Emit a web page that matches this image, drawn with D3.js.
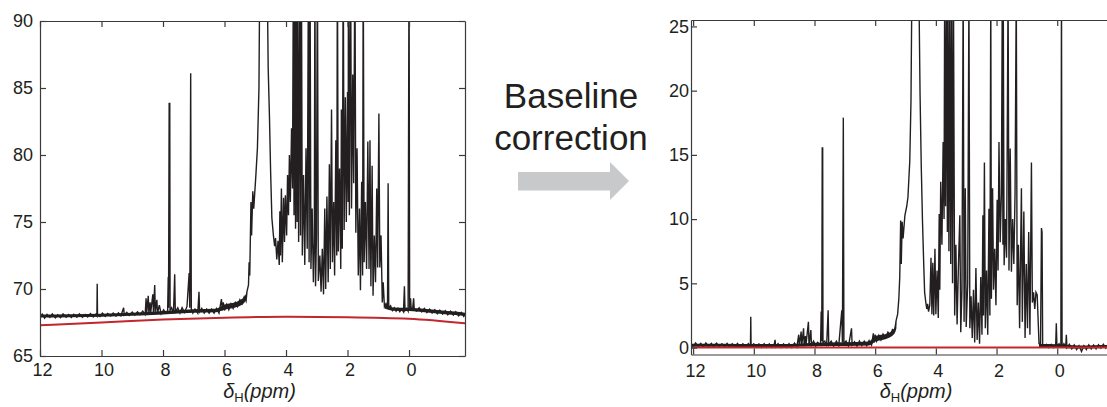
<!DOCTYPE html>
<html>
<head>
<meta charset="utf-8">
<script src="https://cdn.jsdelivr.net/npm/d3@7"></script>
<style>
  body { margin: 0; background: #fff; }
  svg { display: block; font-family: "Liberation Sans", Arial, sans-serif; }
  .axis path, .axis line { stroke: #3b3b3b; stroke-width: 1.2; }
  .axis text { fill: #231f20; font-size: 18px; }
  .spectrum { fill: none; stroke: #231f20; stroke-width: 1.4; stroke-linejoin: miter; }
  .noise { fill: #231f20; stroke: none; }
  .baseline { fill: none; stroke: #c1272d; stroke-width: 2; }
</style>
</head>
<body>
<svg id="chart" width="1107" height="407"></svg>
<script>
// tick values
const ppmTicks = [12, 10, 8, 6, 4, 2, 0];
const rawTicks = [65, 70, 75, 80, 85, 90];
const correctedTicks = [0, 5, 10, 15, 20, 25];

// raw spectrum [ppm, intensity] (values above 90 run off the top)
const rawSpectrum = [
  [12.00,67.85],[11.93,68.12],[11.85,67.82],[11.77,68.10],[11.68,67.88],[11.60,68.14],[11.50,67.84],[11.42,68.08],
  [11.33,67.86],[11.25,68.15],[11.15,67.90],[11.07,68.10],[10.98,67.88],[10.90,68.12],[10.80,67.90],[10.72,68.14],
  [10.62,67.90],[10.53,68.10],[10.45,67.92],[10.36,68.16],[10.27,67.92],[10.18,68.12],[10.15,68.00],[10.14,70.40],
  [10.13,68.05],[10.05,67.95],[9.97,68.20],[9.88,67.95],[9.80,68.18],[9.70,67.98],[9.62,68.20],[9.53,67.98],
  [9.45,68.22],[9.37,68.00],[9.28,68.60],[9.26,68.05],[9.18,68.25],[9.10,68.02],[9.00,68.28],[8.92,68.05],
  [8.83,68.30],[8.75,68.08],[8.66,68.35],[8.58,68.10],[8.55,69.30],[8.53,68.20],[8.48,69.50],[8.46,68.20],
  [8.42,69.00],[8.40,68.25],[8.33,69.60],[8.31,68.20],[8.27,70.30],[8.25,68.30],[8.20,69.20],[8.18,68.20],
  [8.12,68.80],[8.06,68.15],[7.98,68.45],[7.92,68.20],[7.85,68.30],[7.83,70.90],[7.82,68.60],[7.80,83.90],
  [7.79,70.00],[7.78,83.90],[7.77,68.40],[7.72,68.60],[7.66,68.20],[7.62,71.10],[7.60,68.30],[7.52,68.60],
  [7.45,68.20],[7.38,68.60],[7.30,68.25],[7.22,68.70],[7.15,71.20],[7.13,68.60],[7.10,86.10],[7.08,68.50],
  [7.03,68.20],[6.96,68.50],[6.87,68.20],[6.83,69.80],[6.81,68.30],[6.74,68.55],[6.66,68.20],[6.58,68.50],
  [6.50,68.20],[6.42,68.50],[6.34,68.20],[6.26,68.55],[6.18,68.20],[6.10,69.25],[6.07,68.40],[6.04,69.00],
  [6.00,68.40],[5.93,68.85],[5.86,68.45],[5.79,68.90],[5.72,68.55],[5.65,69.00],[5.58,68.70],[5.50,69.20],
  [5.43,68.90],[5.36,69.40],[5.30,69.10],[5.27,69.80],[5.22,70.30],[5.20,72.00],[5.18,71.00],[5.14,76.50],
  [5.12,74.00],[5.08,77.30],[5.05,76.00],[4.98,78.50],[4.93,80.50],[4.88,85.00],[4.85,95.00],[4.62,95.00],
  [4.58,86.50],[4.54,83.00],[4.50,78.70],[4.46,75.30],[4.41,74.00],[4.37,73.20],[4.34,73.80],[4.30,72.20],
  [4.26,73.60],[4.22,71.80],[4.20,75.80],[4.18,72.50],[4.15,77.50],[4.12,72.00],[4.08,76.80],[4.05,73.50],
  [4.02,77.00],[3.98,74.00],[3.95,78.50],[3.92,75.50],[3.89,80.00],[3.86,76.50],[3.82,82.00],[3.79,77.50],
  [3.76,95.00],[3.74,75.50],[3.72,95.00],[3.69,74.50],[3.67,95.00],[3.64,75.00],[3.62,95.00],[3.59,73.50],
  [3.55,95.00],[3.53,74.00],[3.50,95.00],[3.47,72.50],[3.43,78.50],[3.39,71.80],[3.35,80.50],[3.31,73.00],
  [3.27,95.00],[3.25,72.00],[3.22,95.00],[3.19,71.50],[3.15,76.00],[3.11,70.50],[3.08,73.50],[3.06,95.00],
  [3.04,70.20],[3.01,74.00],[2.98,95.00],[2.95,70.60],[2.90,72.50],[2.86,69.80],[2.82,73.00],[2.78,69.60],
  [2.74,76.00],[2.71,70.00],[2.67,76.90],[2.63,70.50],[2.59,79.30],[2.56,71.50],[2.52,83.40],[2.49,72.00],
  [2.45,76.50],[2.42,71.00],[2.38,81.10],[2.35,72.50],[2.33,95.00],[2.30,72.80],[2.26,79.00],[2.22,71.50],
  [2.20,83.40],[2.17,73.00],[2.14,95.00],[2.11,74.40],[2.07,84.30],[2.04,75.00],[2.00,84.70],[1.98,76.50],
  [1.97,95.00],[1.94,75.50],[1.90,95.00],[1.87,76.00],[1.83,86.00],[1.80,77.90],[1.76,95.00],[1.73,74.20],
  [1.69,80.50],[1.65,71.00],[1.61,76.00],[1.58,69.90],[1.54,78.00],[1.51,71.00],[1.49,95.00],[1.46,72.00],
  [1.42,76.50],[1.38,71.50],[1.34,81.00],[1.30,71.50],[1.27,81.10],[1.24,70.20],[1.20,79.20],[1.17,69.50],
  [1.13,74.00],[1.09,70.50],[1.05,77.50],[1.02,71.60],[0.98,83.10],[0.95,71.60],[0.91,74.00],[0.87,69.00],
  [0.84,70.50],[0.80,68.70],[0.75,68.90],[0.70,68.60],[0.68,77.90],[0.66,68.60],[0.60,68.75],[0.54,68.40],
  [0.48,68.60],[0.42,68.35],[0.36,68.55],[0.30,68.30],[0.24,68.50],[0.18,68.30],[0.15,70.20],[0.13,68.40],
  [0.08,68.55],[0.03,68.35],[0.00,95.00],[-0.02,68.50],[-0.05,69.30],[-0.07,68.50],[-0.12,68.60],[-0.15,69.30],
  [-0.17,68.45],[-0.25,68.35],[-0.33,68.60],[-0.41,68.30],[-0.50,68.55],[-0.58,68.25],[-0.67,68.50],[-0.75,68.20],
  [-0.84,68.45],[-0.92,68.15],[-1.00,68.42],[-1.09,68.12],[-1.18,68.38],[-1.26,68.08],[-1.35,68.35],[-1.44,68.05],
  [-1.52,68.30],[-1.61,68.00],[-1.70,68.25],[-1.78,67.95],[-1.85,68.20]
];

// thickness of the noise floor on the left panel [ppm, low, high], one list per stretch of flat baseline
const rawNoiseBands = [
  [[12.0,67.88,68.10],[11.0,67.90,68.12],[10.0,67.93,68.16],[9.0,68.00,68.22],[8.0,68.10,68.36],[7.0,68.22,68.48],
   [6.3,68.26,68.52],[6.0,68.45,68.85],[5.6,68.65,69.05],[5.35,69.00,69.45],[5.27,69.40,69.80]],
  [[0.80,68.55,68.80],[0.5,68.38,68.62],[0.0,68.36,68.60],[-0.5,68.26,68.52],[-1.0,68.16,68.42],
   [-1.5,68.06,68.32],[-1.85,67.98,68.22]]
];

// fitted baseline drawn in red on the left panel [ppm, intensity]
const rawBaseline = [
  [12.0,67.30],[10.0,67.50],[8.0,67.72],[6.0,67.86],[4.0,67.93],[2.0,67.90],[0.0,67.78],[-1.85,67.44]
];

// baseline-corrected spectrum [ppm, intensity]
const correctedSpectrum = [
  [12.07,0.30],[12.00,0.05],[11.92,0.35],[11.83,0.08],[11.75,0.33],[11.66,0.06],[11.58,0.36],[11.49,0.08],
  [11.40,0.32],[11.32,0.05],[11.23,0.34],[11.14,0.08],[11.05,0.30],[10.97,0.05],[10.88,0.33],[10.80,0.06],
  [10.71,0.30],[10.62,0.04],[10.54,0.32],[10.45,0.06],[10.36,0.30],[10.27,0.05],[10.18,0.30],[10.11,0.10],
  [10.10,2.40],[10.09,0.10],[10.00,0.30],[9.92,0.02],[9.83,0.28],[9.75,0.00],[9.66,0.30],[9.58,0.02],
  [9.49,0.28],[9.40,0.00],[9.32,0.30],[9.30,0.60],[9.28,0.05],[9.20,0.30],[9.10,0.00],[9.02,0.28],
  [8.93,0.02],[8.84,0.30],[8.75,0.00],[8.66,0.35],[8.58,0.05],[8.52,1.00],[8.50,0.10],[8.44,1.25],
  [8.42,0.15],[8.36,1.50],[8.34,0.10],[8.30,0.90],[8.28,0.20],[8.20,2.00],[8.18,0.15],[8.12,1.37],
  [8.10,0.20],[8.03,0.50],[7.96,0.10],[7.90,0.40],[7.80,0.20],[7.78,2.80],[7.76,0.50],[7.745,15.60],
  [7.737,3.00],[7.73,15.60],[7.72,0.40],[7.66,0.50],[7.60,0.10],[7.55,2.90],[7.53,0.20],[7.45,0.50],
  [7.37,0.10],[7.28,0.50],[7.20,0.15],[7.10,2.90],[7.08,0.40],[7.05,17.90],[7.03,0.30],[6.96,0.50],
  [6.88,0.10],[6.78,1.50],[6.76,0.20],[6.68,0.45],[6.60,0.10],[6.52,0.50],[6.44,0.15],[6.36,0.50],
  [6.28,0.15],[6.20,0.55],[6.12,0.20],[6.06,1.10],[6.03,0.40],[6.00,1.00],[5.95,0.50],[5.88,0.95],
  [5.81,0.60],[5.74,1.05],[5.66,0.75],[5.58,1.20],[5.50,0.95],[5.43,1.40],[5.36,1.30],[5.31,2.10],
  [5.26,2.60],[5.22,3.80],[5.19,5.50],[5.16,9.90],[5.14,6.50],[5.11,9.80],[5.08,8.50],[5.02,10.30],
  [4.96,11.00],[4.92,11.70],[4.86,14.50],[4.82,19.20],[4.79,28.00],[4.56,28.00],[4.52,19.60],[4.48,14.00],
  [4.44,9.80],[4.40,6.50],[4.37,4.30],[4.33,3.50],[4.30,3.00],[4.27,3.40],[4.24,2.80],[4.20,3.30],
  [4.16,7.00],[4.13,2.60],[4.10,6.60],[4.07,2.50],[4.03,7.70],[4.00,2.60],[3.96,6.00],[3.92,2.30],
  [3.89,10.40],[3.87,4.50],[3.84,12.90],[3.80,8.00],[3.76,16.00],[3.73,10.00],[3.71,28.00],[3.68,11.00],
  [3.65,28.00],[3.62,9.00],[3.60,28.00],[3.57,7.50],[3.54,28.00],[3.51,6.50],[3.48,28.00],[3.45,5.00],
  [3.42,28.00],[3.38,2.50],[3.34,8.00],[3.30,1.80],[3.26,6.00],[3.21,10.30],[3.18,1.20],[3.14,4.50],
  [3.10,28.00],[3.07,2.00],[3.03,12.40],[3.00,1.60],[2.95,5.00],[2.91,28.00],[2.88,1.50],[2.84,4.00],
  [2.80,0.75],[2.76,4.50],[2.72,0.40],[2.68,6.20],[2.64,0.60],[2.60,3.50],[2.56,0.30],[2.52,5.50],
  [2.48,1.00],[2.45,10.30],[2.43,2.50],[2.40,14.40],[2.37,1.50],[2.33,6.00],[2.29,1.00],[2.25,10.80],
  [2.22,2.50],[2.19,28.00],[2.17,3.80],[2.13,12.40],[2.10,4.50],[2.06,7.70],[2.02,3.30],[1.98,11.50],
  [1.95,6.00],[1.92,16.00],[1.88,8.20],[1.84,12.00],[1.81,28.00],[1.79,8.00],[1.78,28.00],[1.75,6.40],
  [1.71,10.00],[1.67,7.00],[1.62,28.00],[1.59,6.00],[1.55,15.50],[1.51,5.90],[1.47,10.00],[1.43,6.50],
  [1.39,12.00],[1.35,28.00],[1.32,3.30],[1.28,8.00],[1.24,1.50],[1.18,12.40],[1.15,2.00],[1.10,10.60],
  [1.06,0.75],[1.02,6.50],[0.98,1.50],[0.94,9.00],[0.90,1.00],[0.85,14.40],[0.82,3.50],[0.78,4.30],
  [0.74,3.00],[0.70,4.30],[0.66,4.10],[0.60,0.30],[0.55,0.20],[0.52,9.30],[0.50,9.00],[0.48,0.20],
  [0.42,0.05],[0.35,0.25],[0.28,0.00],[0.20,0.25],[0.12,0.00],[0.05,0.20],[0.03,1.90],[0.01,0.10],
  [-0.06,0.30],[-0.12,0.00],[-0.14,28.00],[-0.16,0.00],[-0.22,0.30],[-0.28,0.05],[-0.30,1.00],[-0.32,0.00],
  [-0.40,0.25],[-0.48,-0.10],[-0.56,0.20],[-0.64,-0.15],[-0.72,0.15],[-0.80,-0.30],[-0.88,0.15],[-0.96,-0.15],
  [-1.04,0.20],[-1.12,-0.10],[-1.20,0.20],[-1.28,-0.10],[-1.36,0.22],[-1.44,-0.05],[-1.52,0.25],[-1.60,-0.05],
  [-1.70,0.25],[-1.80,0.00],[-1.90,0.20],[-2.00,0.00]
];

// thickness of the noise floor on the right panel [ppm, low, high]
const correctedNoiseBands = [
  [[12.07,0.07,0.30],[11.0,0.06,0.29],[10.0,0.04,0.27],[9.0,0.04,0.27],[8.6,0.06,0.30],[8.0,0.10,0.38],
   [7.0,0.12,0.42],[6.2,0.16,0.48],[6.0,0.45,0.90],[5.6,0.70,1.10],[5.36,1.10,1.55],[5.30,1.50,2.00]],
  [[0.60,0.05,0.28],[0.0,0.02,0.25],[-0.5,-0.08,0.18],[-1.0,-0.08,0.16],[-1.5,-0.04,0.20],[-2.0,-0.02,0.20]]
];

// corrected baseline (flat zero line) on the right panel
const correctedBaseline = [[12.07,0],[-2.0,0]];

class SpectrumPanel {
    constructor(_config, _data) {
        this.config = {
            svg: _config.svg,
            id: _config.id,
            left: _config.left,
            right: _config.right,
            top: _config.top,
            bottom: _config.bottom,
            ppmDomain: _config.ppmDomain,
            yDomain: _config.yDomain,
            yTicks: _config.yTicks,
            yPadding: _config.yPadding,
            xPadding: _config.xPadding,
            labelShift: _config.labelShift || 0
        };
        this.data = _data;
        this.initVis();
    }

    initVis() {
        let vis = this;
        const c = vis.config;

        vis.xScale = d3.scaleLinear().domain(c.ppmDomain).range([c.left, c.right]);
        vis.yScale = d3.scaleLinear().domain(c.yDomain).range([c.bottom, c.top]);

        vis.g = c.svg.append('g');

        // clip the traces to the frame
        vis.g.append('clipPath').attr('id', `clip-${c.id}`)
            .append('rect')
            .attr('x', c.left).attr('y', c.top)
            .attr('width', c.right - c.left).attr('height', c.bottom - c.top);

        vis.line = d3.line()
            .x(d => vis.xScale(d[0]))
            .y(d => vis.yScale(d[1]));

        vis.curve = d3.line()
            .x(d => vis.xScale(d[0]))
            .y(d => vis.yScale(d[1]))
            .curve(d3.curveMonotoneX);

        vis.band = d3.area()
            .x(d => vis.xScale(d[0]))
            .y0(d => vis.yScale(d[1]))
            .y1(d => vis.yScale(d[2]))
            .curve(d3.curveMonotoneX);

        vis.updateVis();
    }

    updateVis() {
        let vis = this;
        const c = vis.config;

        // noisy floor, then the trace over it
        vis.g.selectAll('.noise')
            .data(vis.data.noise)
            .join('path')
            .attr('class', 'noise')
            .attr('clip-path', `url(#clip-${c.id})`)
            .attr('d', d => vis.band(d));

        vis.g.append('path')
            .attr('class', 'spectrum')
            .attr('clip-path', `url(#clip-${c.id})`)
            .attr('d', vis.line(vis.data.spectrum));

        vis.g.append('path')
            .attr('class', 'baseline')
            .attr('clip-path', `url(#clip-${c.id})`)
            .attr('d', vis.curve(vis.data.baseline));

        // axes, ticks pointing inward, mirrored on top and right
        vis.g.append('g').attr('class', 'axis')
            .attr('transform', `translate(0,${c.bottom})`)
            .call(d3.axisBottom(vis.xScale).tickValues(ppmTicks)
                .tickSizeInner(-6).tickSizeOuter(0).tickPadding(c.xPadding))
            .selectAll('text').attr('dx', 2);

        vis.g.append('g').attr('class', 'axis')
            .attr('transform', `translate(0,${c.top})`)
            .call(d3.axisTop(vis.xScale).tickValues(ppmTicks)
                .tickSizeInner(-6).tickSizeOuter(0).tickFormat(''));

        vis.g.append('g').attr('class', 'axis')
            .attr('transform', `translate(${c.left},0)`)
            .call(d3.axisLeft(vis.yScale).tickValues(c.yTicks)
                .tickSizeInner(-6).tickSizeOuter(0).tickPadding(c.yPadding));

        vis.g.append('g').attr('class', 'axis')
            .attr('transform', `translate(${c.right},0)`)
            .call(d3.axisRight(vis.yScale).tickValues(c.yTicks)
                .tickSizeInner(-6).tickSizeOuter(0).tickFormat(''));

        // x axis title: δH(ppm)
        const title = vis.g.append('text')
            .attr('x', (c.left + c.right) / 2 + c.labelShift)
            .attr('y', 398)
            .attr('text-anchor', 'middle')
            .attr('fill', '#231f20')
            .style('font-size', '20px');
        title.append('tspan').style('font-style', 'italic').text('δ');
        title.append('tspan').attr('dy', 4).style('font-size', '13px').text('H');
        title.append('tspan').attr('dy', -4).style('font-style', 'italic').text('(ppm)');
    }
}

const svg = d3.select('#chart');

new SpectrumPanel({
    svg: svg, id: 'raw',
    left: 40, right: 465, top: 21, bottom: 356,
    ppmDomain: [12, -1.82], yDomain: [65, 90], yTicks: rawTicks,
    yPadding: 7, xPadding: 7, labelShift: 7
}, {spectrum: rawSpectrum, noise: rawNoiseBands, baseline: rawBaseline});

new SpectrumPanel({
    svg: svg, id: 'corrected',
    left: 691, right: 1117, top: 20, bottom: 354.5,
    ppmDomain: [12.07, -1.97], yDomain: [-0.54, 25.5], yTicks: correctedTicks,
    yPadding: 2, xPadding: 10, labelShift: 12
}, {spectrum: correctedSpectrum, noise: correctedNoiseBands, baseline: correctedBaseline});

// centre caption and arrow
svg.append('text')
    .attr('x', 571).attr('y', 108)
    .attr('text-anchor', 'middle').attr('fill', '#231f20')
    .style('font-size', '35px')
    .text('Baseline');
svg.append('text')
    .attr('x', 571).attr('y', 150)
    .attr('text-anchor', 'middle').attr('fill', '#231f20')
    .style('font-size', '35px')
    .text('correction');

svg.append('path')
    .attr('d', 'M518,172H610V162L629,181L610,200V190.5H518Z')
    .attr('fill', '#c8c9cb');
</script>
</body>
</html>
